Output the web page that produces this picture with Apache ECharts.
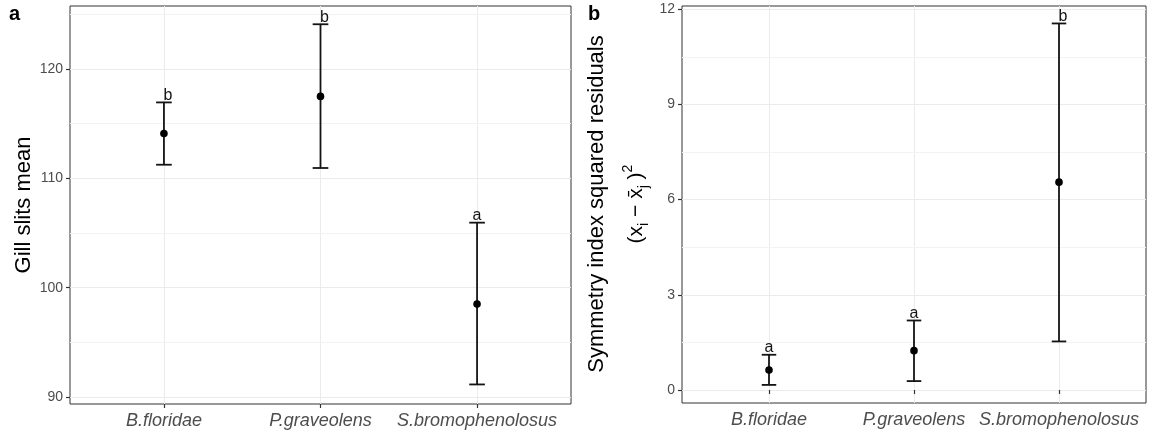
<!DOCTYPE html>
<html>
<head>
<meta charset="utf-8">
<script src="https://cdn.jsdelivr.net/npm/echarts@6/dist/echarts.min.js"></script>
<style>
  html, body { margin: 0; padding: 0; background: #fff; }
  #main { width: 1154px; height: 437px; }
</style>
</head>
<body>
<div id="main"></div>
<script>
// categories on both panels
var species = ['B.floridae', 'P.graveolens', 'S.bromophenolosus'];

// panel a: gill slits mean with interval
var gillMean = [114.1, 117.5, 98.5];
var gillLow = [111.25, 110.95, 91.15];
var gillHigh = [116.95, 124.1, 105.95];
var gillLetters = ['b', 'b', 'a'];
var gillTicks = [90, 100, 110, 120];
var gillMinor = [95, 105, 115, 125];

// panel b: symmetry index squared residuals
var symMean = [0.63, 1.24, 6.55];
var symLow = [0.16, 0.28, 1.53];
var symHigh = [1.11, 2.19, 11.55];
var symLetters = ['a', 'a', 'b'];
var symTicks = [0, 3, 6, 9, 12];
var symMinor = [1.5, 4.5, 7.5, 10.5];

var xPos = [1, 2, 3];
var FONT = '"Liberation Sans", Arial, sans-serif';
var INK = '#141414';

function rows(mean, low, high) {
	return xPos.map(function (x, i) { return [x, mean[i], low[i], high[i]]; });
}

// draws the interval, caps, the point and the letter for one species
function errorBar(letters) {
	return function (params, api) {
		var x = api.value(0);
		var top = api.coord([x, api.value(3)]);
		var bot = api.coord([x, api.value(2)]);
		var mid = api.coord([x, api.value(1)]);
		var half = api.size([0.05, 0])[0];
		var ls = { stroke: INK, lineWidth: 1.8 };
		var letter = letters[params.dataIndex];
		return {
			type: 'group',
			children: [
				{ type: 'line', shape: { x1: top[0], y1: top[1], x2: bot[0], y2: bot[1] }, style: ls },
				{ type: 'line', shape: { x1: top[0] - half, y1: top[1], x2: top[0] + half, y2: top[1] }, style: ls },
				{ type: 'line', shape: { x1: bot[0] - half, y1: bot[1], x2: bot[0] + half, y2: bot[1] }, style: ls },
				{ type: 'circle', shape: { cx: mid[0], cy: mid[1], r: 3.8 }, style: { fill: '#000' } },
				// 'b' sits a little right of the bar in the original
				{ type: 'text', x: top[0] + (letter === 'b' ? 4 : 0), y: top[1] + 1,
				  style: { text: letter, fill: INK, font: '16px ' + FONT,
				           textAlign: 'center', textVerticalAlign: 'bottom' } }
			]
		};
	};
}

function xAxis(idx) {
	return {
		type: 'value', gridIndex: idx, min: 0.4, max: 3.6,
		axisLine: { show: false },
		axisTick: { show: true, length: 4, customValues: xPos, lineStyle: { color: '#333', width: 1.2 } },
		axisLabel: { customValues: xPos, margin: 8, color: '#4d4d4d', fontSize: 18, fontStyle: 'italic', fontFamily: FONT,
		             formatter: function (v) { return species[Math.round(v) - 1]; } },
		splitLine: { show: true, lineStyle: { color: '#ebebeb', width: 1 } }
	};
}

function yAxis(idx, min, max, ticks) {
	return {
		type: 'value', gridIndex: idx, min: min, max: max,
		axisLine: { show: false },
		axisTick: { show: true, length: 4, customValues: ticks, lineStyle: { color: '#333', width: 1.2 } },
		axisLabel: { customValues: ticks, margin: 7, color: '#4d4d4d', fontSize: 14, fontFamily: FONT },
		splitLine: { show: true, lineStyle: { color: '#ebebeb', width: 1 } }
	};
}

function minorLines(idx, vals) {
	return {
		type: 'line', xAxisIndex: idx, yAxisIndex: idx, data: [], silent: true,
		markLine: { silent: true, symbol: 'none', label: { show: false }, animation: false,
		            lineStyle: { color: '#f3f3f3', width: 1, type: 'solid' },
		            data: vals.map(function (v) { return { yAxis: v }; }) }
	};
}

var myChart = echarts.init(document.getElementById('main'));
var option = {
	animation: false,
	grid: [
		{ left: 70, right: 583, top: 6, bottom: 33, show: true, borderColor: '#333', borderWidth: 1, backgroundColor: 'transparent' },
		{ left: 682, right: 8, top: 6, bottom: 34, show: true, borderColor: '#333', borderWidth: 1, backgroundColor: 'transparent' }
	],
	xAxis: [xAxis(0), xAxis(1)],
	yAxis: [yAxis(0, 89.36, 125.77, gillTicks), yAxis(1, -0.41, 12.1, symTicks)],
	graphic: [
		{ type: 'text', left: 9, top: 4, style: { text: 'a', font: 'bold 20px ' + FONT, fill: '#000' } },
		{ type: 'text', left: 588, top: 4, style: { text: 'b', font: 'bold 20px ' + FONT, fill: '#000' } },
		{ type: 'text', x: 24, y: 205, rotation: Math.PI / 2,
		  style: { text: 'Gill slits mean', font: '22px ' + FONT, fill: '#000', textAlign: 'center', textVerticalAlign: 'middle' } },
		{ type: 'text', x: 597, y: 204, rotation: Math.PI / 2,
		  style: { text: 'Symmetry index squared residuals', font: '22px ' + FONT, fill: '#000', textAlign: 'center', textVerticalAlign: 'middle' } },
		{ type: 'text', x: 636, y: 204, rotation: Math.PI / 2,
		  style: { text: '{p|(x}{s|i}{p| \u2212 x\u0304}{s|j}{p| )}{u|2}', textAlign: 'center', textVerticalAlign: 'middle',
		           rich: {
		             p: { fontSize: 21, fontFamily: 'Liberation Sans', fill: '#000', lineHeight: 30, verticalAlign: 'middle' },
		             s: { fontSize: 14, fontFamily: 'Liberation Sans', fill: '#000', verticalAlign: 'bottom' },
		             u: { fontSize: 14, fontFamily: 'Liberation Sans', fill: '#000', verticalAlign: 'top' }
		           } } }
	],
	series: [
		minorLines(0, gillMinor),
		minorLines(1, symMinor),
		{ type: 'custom', xAxisIndex: 0, yAxisIndex: 0, renderItem: errorBar(gillLetters),
		  data: rows(gillMean, gillLow, gillHigh), z: 5 },
		{ type: 'custom', xAxisIndex: 1, yAxisIndex: 1, renderItem: errorBar(symLetters),
		  data: rows(symMean, symLow, symHigh), z: 5 }
	]
};
myChart.setOption(option);
</script>
</body>
</html>
